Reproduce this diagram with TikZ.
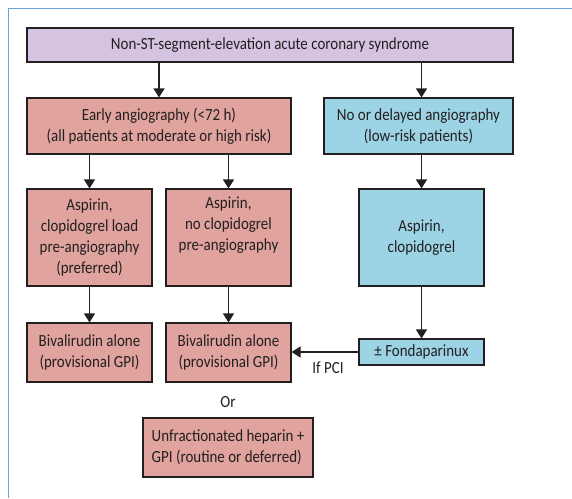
\documentclass[tikz,border=0pt]{standalone}
\usepackage{fontspec}
\setmainfont[FakeStretch=0.88]{Carlito}
\usetikzlibrary{arrows.meta}
\definecolor{framec}{RGB}{111,160,214}
\definecolor{purp}{RGB}{212,196,226}
\definecolor{redb}{RGB}{224,163,158}
\definecolor{blueb}{RGB}{156,212,229}
\definecolor{ink}{RGB}{35,31,32}
\tikzset{
  box/.style={draw=ink, line width=1.1pt, inner sep=0pt, align=center, font=\fontsize{17}{21}\selectfont, text=ink},
  purpbox/.style={box, fill=purp},
  redbox/.style={box, fill=redb},
  bluebox/.style={box, fill=blueb},
  arr/.style={draw=ink, line width=1.1pt, -{Triangle[length=9pt,width=11pt]}},
  lbl/.style={font=\fontsize{17}{21}\selectfont, text=ink, inner sep=0pt},
}
\begin{document}
\begin{tikzpicture}[x=1pt,y=-1pt]
\useasboundingbox (0,0) rectangle (572,498);
\draw[framec, line width=1pt] (572,8) -- (8.5,8);
\draw[framec, line width=1.6pt] (8.5,7.5) -- (8.5,498);
\node[purpbox, minimum width=486pt, minimum height=34pt] (top) at (270,45) {Non-ST-segment-elevation acute coronary syndrome};
\node[redbox, minimum width=264pt, minimum height=56pt] (early) at (159,126) {Early angiography (<72 h)\\(all patients at moderate or high risk)};
\node[bluebox, minimum width=189pt, minimum height=56pt] (late) at (418.5,126) {No or delayed angiography\\(low-risk patients)};
\node[redbox, minimum width=125pt, minimum height=97pt] (a1) at (89.5,237.5) {Aspirin,\\clopidogrel load\\pre-angiography\\(preferred)};
\node[redbox, minimum width=125pt, minimum height=97pt] (a2) at (228.5,237.5) {Aspirin,\\no clopidogrel\\pre-angiography\\\strut};
\node[bluebox, minimum width=125pt, minimum height=97pt] (a3) at (421.5,237.5) {Aspirin,\\clopidogrel};
\node[redbox, minimum width=125pt, minimum height=59pt] (b1) at (89.5,352.5) {Bivalirudin alone\\(provisional GPI)};
\node[redbox, minimum width=125pt, minimum height=59pt] (b2) at (228.5,352.5) {Bivalirudin alone\\(provisional GPI)};
\node[bluebox, minimum width=125pt, minimum height=26pt] (fonda) at (421.5,352) {± Fondaparinux};
\node[lbl] (ifpci) at (328,368) {If PCI};
\node[lbl] (or) at (228,402) {Or};
\node[redbox, minimum width=170pt, minimum height=59pt, align=left] (ufh) at (228,447.5) {Unfractionated heparin +\\GPI (routine or deferred)};
\draw[arr] (top.south -| early.north) -- (early.north);
\draw[arr] (top.south -| a3.north) -- (late.north -| a3.north);
\draw[arr] (early.south -| a1.north) -- (a1.north);
\draw[arr] (early.south -| a2.north) -- (a2.north);
\draw[arr] (late.south -| a3.north) -- (a3.north);
\draw[arr] (a1.south) -- (b1.north);
\draw[arr] (a2.south) -- (b2.north);
\draw[arr] (a3.south) -- (fonda.north);
\draw[arr] (fonda.west) -- (fonda.west -| b2.east);
\end{tikzpicture}
\end{document}
